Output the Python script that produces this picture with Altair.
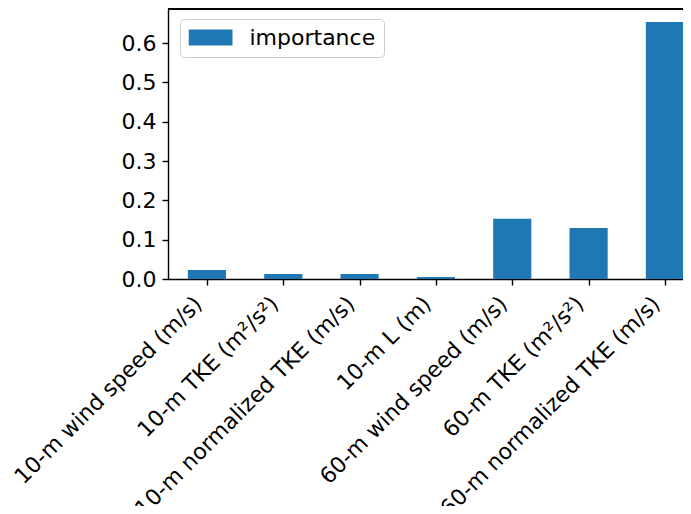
import json
import altair as alt
import pandas as pd

categories = [
    "10-m wind speed (m/s)",
    "10-m TKE (m²/s²)",
    "10-m normalized TKE (m/s)",
    "10-m L (m)",
    "60-m wind speed (m/s)",
    "60-m TKE (m²/s²)",
    "60-m normalized TKE (m/s)",
]
importance = [0.023, 0.013, 0.013, 0.005, 0.153, 0.130, 0.654]
series_name = "importance"

df = pd.DataFrame({
    "idx": list(range(len(categories))),
    "category": categories,
    "importance": importance,
    "series": [series_name] * len(categories),
})

FONT = "DejaVu Sans"
FS = 22
W, H = 515, 270

label_expr = json.dumps(categories, ensure_ascii=False) + "[datum.value]"

xscale = alt.Scale(domain=[-0.51, 6.237], nice=False, zero=False)
yscale = alt.Scale(domain=[0, 0.687], nice=False)

bars = alt.Chart(df).transform_calculate(
    x0="datum.idx - 0.25", x1="datum.idx + 0.25"
).mark_bar(clip=True).encode(
    x=alt.X("x0:Q", scale=xscale, axis=alt.Axis(
        title=None, values=list(range(len(categories))), labelExpr=label_expr,
        grid=False, labelAngle=315, labelAlign="right", labelBaseline="middle",
        labelOffset=-9, labelPadding=15, labelLimit=500, labelFont=FONT,
        labelFontSize=FS, labelColor="black", tickSize=6, tickWidth=1.4,
        tickColor="black", domainColor="black", domainWidth=1.4, labelFlush=False,
        labelOverlap=False)),
    x2="x1:Q",
    y=alt.Y("importance:Q", scale=yscale, axis=alt.Axis(
        title=None, values=[0, 0.1, 0.2, 0.3, 0.4, 0.5, 0.6], format=".1f",
        grid=False, labelFont=FONT, labelFontSize=FS, labelColor="black",
        tickSize=6, tickWidth=1.4, tickColor="black", domainColor="black",
        domainWidth=1.4, labelPadding=6)),
    y2=alt.datum(0),
    color=alt.Color("series:N", scale=alt.Scale(domain=[series_name], range=["#1f77b4"]),
                    legend=alt.Legend(
                        title=None, orient="none", legendX=12, legendY=10,
                        symbolType="M-1,-0.364L1,-0.364L1,0.364L-1,0.364Z",
                        symbolSize=1936, symbolStrokeWidth=0, symbolOpacity=1,
                        labelFont=FONT, labelFontSize=FS, labelColor="black",
                        labelOffset=17, padding=8.5, strokeColor="#cccccc",
                        cornerRadius=4, fillColor="white", clipHeight=20)),
)

top = alt.Chart(df).mark_rule(color="black", strokeWidth=1.4).encode(
    x=alt.value(0), x2=alt.value(W), y=alt.value(0)
)

chart = alt.layer(bars, top).properties(
    width=W, height=H,
    autosize=alt.AutoSizeParams(type="none"),
    padding={"left": 160, "top": 1, "right": 0, "bottom": 227},
).configure_view(stroke=None)

chart.save("out.html", embed_options={"renderer": "svg", "actions": False})
